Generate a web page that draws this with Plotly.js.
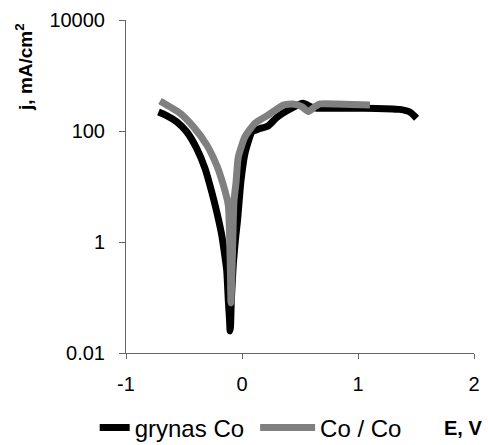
<!DOCTYPE html>
<html>
<head>
<meta charset="utf-8">
<script src="https://cdn.plot.ly/plotly-3.0.1.min.js"></script>
<style>
  html, body { margin: 0; padding: 0; background: #fff; }
  #chart { width: 488px; height: 445px; }
</style>
</head>
<body>
<div id="chart"></div>
<script>
// Polarisation curves: potential E (V) vs current density j (mA/cm2)
const potentialPure = [-0.72, -0.65, -0.563, -0.477, -0.391, -0.319, -0.261, -0.218, -0.175, -0.155, -0.132, -0.118, -0.106, -0.103, -0.099, -0.092, -0.075, -0.055, -0.039, -0.009, 0.026, 0.086, 0.14, 0.224, 0.30, 0.428, 0.526, 0.60, 0.65, 0.80, 0.95, 1.16, 1.30, 1.36, 1.45, 1.505];
const currentPure   = [220, 190, 147, 97, 48.7, 21.2, 8.0, 3.5, 1.34, 0.71, 0.31, 0.089, 0.035, 0.025, 0.03, 0.09, 0.4, 1.2, 2.4, 12.6, 40, 96, 108, 123, 175, 257, 316, 270, 257, 257, 257, 255, 250, 245, 218, 170];

const potentialCoated = [-0.707, -0.62, -0.534, -0.42, -0.304, -0.218, -0.161, -0.118, -0.108, -0.100, -0.095, -0.089, -0.086, -0.080, -0.069, -0.052, -0.032, 0.026, 0.112, 0.227, 0.356, 0.44, 0.515, 0.572, 0.629, 0.672, 0.816, 0.95, 1.103];
const currentCoated   = [348, 272, 209, 120, 56, 24, 10.6, 4.6, 1.6, 0.31, 0.08, 0.2, 0.31, 1.0, 5.6, 11.5, 34, 79, 138, 194, 294, 307, 275, 223, 275, 307, 307, 300, 294];

const seriesNames = ['grynas Co', 'Co / Co'];
const xTicks = [-1, 0, 1, 2];
const xTickText = ['-1', '0', '1', '2'];
const yTicks = [0.01, 1, 100, 10000];
const yTickText = ['0.01', '1', '100', '10000'];

const font = 'Arial, "Liberation Sans", sans-serif';
const legendFont = { family: font, size: 24, color: '#000' };

const traces = [
  {
    x: potentialPure, y: currentPure, name: seriesNames[0], legend: 'legend',
    type: 'scatter', mode: 'lines',
    line: { color: '#000000', width: 7, shape: 'spline', smoothing: 0.5 }
  },
  {
    x: potentialCoated, y: currentCoated, name: seriesNames[1], legend: 'legend2',
    type: 'scatter', mode: 'lines',
    line: { color: '#808080', width: 7, shape: 'spline', smoothing: 0.5 }
  }
];

const layout = {
  width: 488, height: 445,
  margin: { l: 126, r: 14, t: 20, b: 92, autoexpand: false },
  paper_bgcolor: '#ffffff', plot_bgcolor: '#ffffff',
  font: { family: font, size: 20, color: '#000' },
  showlegend: true,
  legend: {
    orientation: 'h', x: -0.09, xanchor: 'left', y: -0.225, yanchor: 'middle',
    font: legendFont, itemwidth: 30, bgcolor: 'rgba(0,0,0,0)'
  },
  legend2: {
    orientation: 'h', x: 0.371, xanchor: 'left', y: -0.225, yanchor: 'middle',
    font: legendFont, itemwidth: 55, bgcolor: 'rgba(0,0,0,0)'
  },
  xaxis: {
    range: [-1, 2], tickvals: xTicks, ticktext: xTickText,
    ticks: 'outside', ticklen: 5, tickcolor: '#666',
    showline: true, linecolor: '#666', linewidth: 1, showgrid: false, zeroline: false,
    ticklabelstandoff: 8, tickfont: { family: font, size: 20 }
  },
  yaxis: {
    type: 'log', range: [-2, 4], tickvals: yTicks, ticktext: yTickText,
    ticks: 'outside', ticklen: 6, tickcolor: '#666',
    showline: true, linecolor: '#666', linewidth: 1, showgrid: false, zeroline: false,
    ticklabelstandoff: 10, tickfont: { family: font, size: 20 }
  },
  annotations: [
    {
      text: '<b>j, mA/cm<sup>2</sup></b>', textangle: -90,
      xref: 'paper', yref: 'paper', x: -0.295, y: 0.86,
      xanchor: 'center', yanchor: 'middle', showarrow: false,
      font: { family: font, size: 19, color: '#000' }
    },
    {
      text: '<b>E, V</b>',
      xref: 'paper', yref: 'paper', x: 0.968, y: -0.225,
      xanchor: 'center', yanchor: 'middle', showarrow: false,
      font: { family: font, size: 20, color: '#000' }
    }
  ]
};

Plotly.newPlot('chart', traces, layout, { displayModeBar: false, staticPlot: true });
</script>
</body>
</html>
